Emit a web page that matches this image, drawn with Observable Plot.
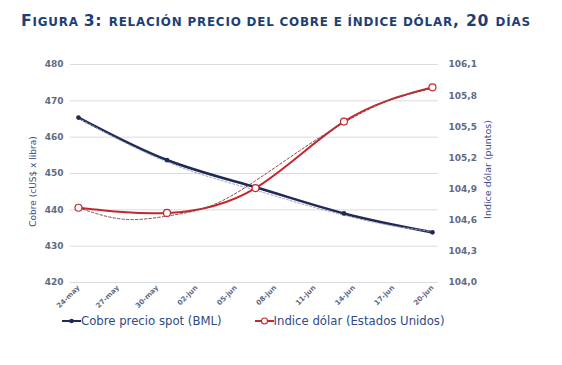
<!DOCTYPE html>
<html>
<head>
<meta charset="utf-8">
<script src="https://cdn.jsdelivr.net/npm/d3@7"></script>
<script src="https://cdn.jsdelivr.net/npm/@observablehq/plot@0.6"></script>
<style>
  html, body { margin: 0; padding: 0; background: #ffffff; }
  body { width: 562px; height: 365px; position: relative; overflow: hidden; font-family: "DejaVu Sans", Verdana, sans-serif; }
  #title { position: absolute; left: 21px; top: 13px; font-size: 15.6px; font-weight: bold; color: #1c3f77; white-space: nowrap; line-height: 17px; }
  #title .sc { font-size: 11.9px; }
  #chart { position: absolute; left: 0; top: 40px; }
  #legend { position: absolute; left: 62px; top: 314px; font-size: 11.7px; color: #2f4a86; white-space: nowrap; display: flex; align-items: center; }
  #legend .item { display: flex; align-items: center; }
  #legend svg { display: block; }
</style>
</head>
<body>
<div id="title"></div>
<div id="chart"></div>
<div id="legend"></div>
<script>
// ---- text ----
const titleText = "Figura 3: relación precio del cobre e índice dólar, 20 días";

// ---- data ----
const obs = [1, 2, 3, 4, 5];
const cobre = [465.4, 453.7, 446.2, 439.0, 433.8];            // cUS$ x libra (left axis)
const indiceDolar = [104.72, 104.67, 104.91, 105.55, 105.88]; // puntos (right axis)

const trendObs = [1, 1.5, 2, 2.5, 3, 3.5, 4, 4.5, 5];
const cobreTrend = [465.2, 458.8, 453.2, 448.9, 445.4, 441.8, 438.5, 435.8, 434.0];
const dolarTrend = [104.72, 104.61, 104.64, 104.74, 104.98, 105.27, 105.54, 105.75, 105.87];

const xTickLabels = ["24-may", "27-may", "30-may", "02-jun", "05-jun", "08-jun", "11-jun", "14-jun", "17-jun", "20-jun"];
const leftTicks = [420, 430, 440, 450, 460, 470, 480];
const rightTicks = [104.0, 104.3, 104.6, 104.9, 105.2, 105.5, 105.8, 106.1];

const serieCobre = "Cobre precio spot (BML)";
const serieDolar = "Indice dólar (Estados Unidos)";
const labelLeft = "Cobre (cUS$ x libra)";
const labelRight = "Indice dólar (puntos)";

// ---- title in small caps (lowercase letters shown as smaller capitals) ----
(function buildTitle() {
  const el = document.getElementById("title");
  let buf = "", lower = null;
  const flush = () => {
    if (!buf) return;
    if (lower) { const s = document.createElement("span"); s.className = "sc"; s.textContent = buf.toUpperCase(); el.appendChild(s); }
    else el.appendChild(document.createTextNode(buf));
    buf = "";
  };
  for (const ch of titleText) {
    const isLower = ch !== ch.toUpperCase();
    const kind = ch === " " ? lower : isLower;
    if (kind !== lower) { flush(); lower = kind; }
    buf += ch;
  }
  flush();
  // stretch to the reference width with a small letter spacing
  const target = 509;
  const w = el.getBoundingClientRect().width;
  const n = [...titleText].length - 1;
  el.style.letterSpacing = ((target - w) / n) + "px";
})();

// ---- styling ----
const blue = "#1f2a55";
const red = "#c4262e";
const tickColor = "#5f6b85";

// map right-axis values onto the left scale
const L0 = 420, L1 = 480, R0 = 104.0, R1 = 106.1;
const toLeft = v => L0 + (v - R0) * (L1 - L0) / (R1 - R0);

const cobreData = obs.map((o, i) => ({x: o, y: cobre[i]}));
const dolarData = obs.map((o, i) => ({x: o, y: toLeft(indiceDolar[i])}));
const cobreTrendData = trendObs.map((o, i) => ({x: o, y: cobreTrend[i]}));
const dolarTrendData = trendObs.map((o, i) => ({x: o, y: toLeft(dolarTrend[i])}));

const nT = xTickLabels.length;
const xTickPos = xTickLabels.map((d, k) => obs[0] + k * (obs[obs.length - 1] - obs[0]) / (nT - 1));

const chart = Plot.plot({
  width: 562,
  height: 272,
  marginLeft: 70,
  marginRight: 124,
  marginTop: 24,
  marginBottom: 30,
  x: {domain: [0.91, 5.068]},
  y: {domain: [L0, L1]},
  style: {fontFamily: "DejaVu Sans, Verdana, sans-serif", background: "white"},
  marks: [
    Plot.gridY(leftTicks, {stroke: "#d9dbe0", strokeOpacity: 1, strokeWidth: 1}),
    Plot.axisY(leftTicks, {anchor: "left", tickSize: 0, tickPadding: 7, label: null, fontSize: 9, fontWeight: "bold", fill: tickColor}),
    Plot.axisY(rightTicks.map(toLeft), {anchor: "right", tickSize: 0, tickPadding: 10, label: null, fontSize: 9, fontWeight: "bold", fill: tickColor,
      tickFormat: (d, i) => rightTicks[i].toFixed(1).replace(".", ",")}),
    Plot.axisX(xTickPos, {anchor: "bottom", tickSize: 0, tickPadding: 4, tickRotate: -45, label: null, fontSize: 7, fontWeight: "bold", fill: tickColor,
      tickFormat: (d, i) => xTickLabels[i]}),
    Plot.text([labelLeft], {frameAnchor: "left", textAnchor: "middle", dx: -37, dy: 8, rotate: -90, fontSize: 9, fill: "#3a4f86", text: d => d}),
    Plot.text([labelRight], {frameAnchor: "right", textAnchor: "middle", dx: 49, dy: -4, rotate: -90, fontSize: 9.5, fill: "#3a4f86", text: d => d}),
    // copper
    Plot.line(cobreData, {x: "x", y: "y", curve: "natural", stroke: blue, strokeWidth: 2.6}),
    Plot.line(cobreTrendData, {x: "x", y: "y", curve: "natural", stroke: "#9aa3bd", strokeWidth: 1, strokeDasharray: "2,2"}),
    Plot.dot(cobreData, {x: "x", y: "y", r: 1.6, fill: blue, stroke: blue}),
    // dollar index
    Plot.line(dolarData, {x: "x", y: "y", curve: "natural", stroke: red, strokeWidth: 2}),
    Plot.line(dolarTrendData, {x: "x", y: "y", curve: "natural", stroke: "#8a4a4a", strokeWidth: 1, strokeDasharray: "2.5,2"}),
    Plot.dot(dolarData, {x: "x", y: "y", r: 3.5, fill: "white", stroke: red, strokeWidth: 1.2})
  ]
});
document.getElementById("chart").appendChild(chart);

// legend
const legend = document.getElementById("legend");
function swatch(color, hollow) {
  const ns = "http://www.w3.org/2000/svg";
  const s = document.createElementNS(ns, "svg");
  s.setAttribute("width", 19); s.setAttribute("height", 10);
  const l = document.createElementNS(ns, "line");
  l.setAttribute("x1", 0); l.setAttribute("x2", 19); l.setAttribute("y1", 5); l.setAttribute("y2", 5);
  l.setAttribute("stroke", color); l.setAttribute("stroke-width", 2);
  s.appendChild(l);
  const c = document.createElementNS(ns, "circle");
  c.setAttribute("cx", 9.5); c.setAttribute("cy", 5); c.setAttribute("r", hollow ? 3 : 1.8);
  c.setAttribute("fill", hollow ? "white" : color); c.setAttribute("stroke", color); c.setAttribute("stroke-width", 1.1);
  s.appendChild(c);
  return s;
}
[[serieCobre, blue, false, 0], [serieDolar, red, true, 33]].forEach(([name, col, hollow, gap]) => {
  const it = document.createElement("div");
  it.className = "item";
  it.style.marginLeft = gap + "px";
  it.appendChild(swatch(col, hollow));
  const t = document.createElement("span");
  t.textContent = name;
  it.appendChild(t);
  legend.appendChild(it);
});
</script>
</body>
</html>
